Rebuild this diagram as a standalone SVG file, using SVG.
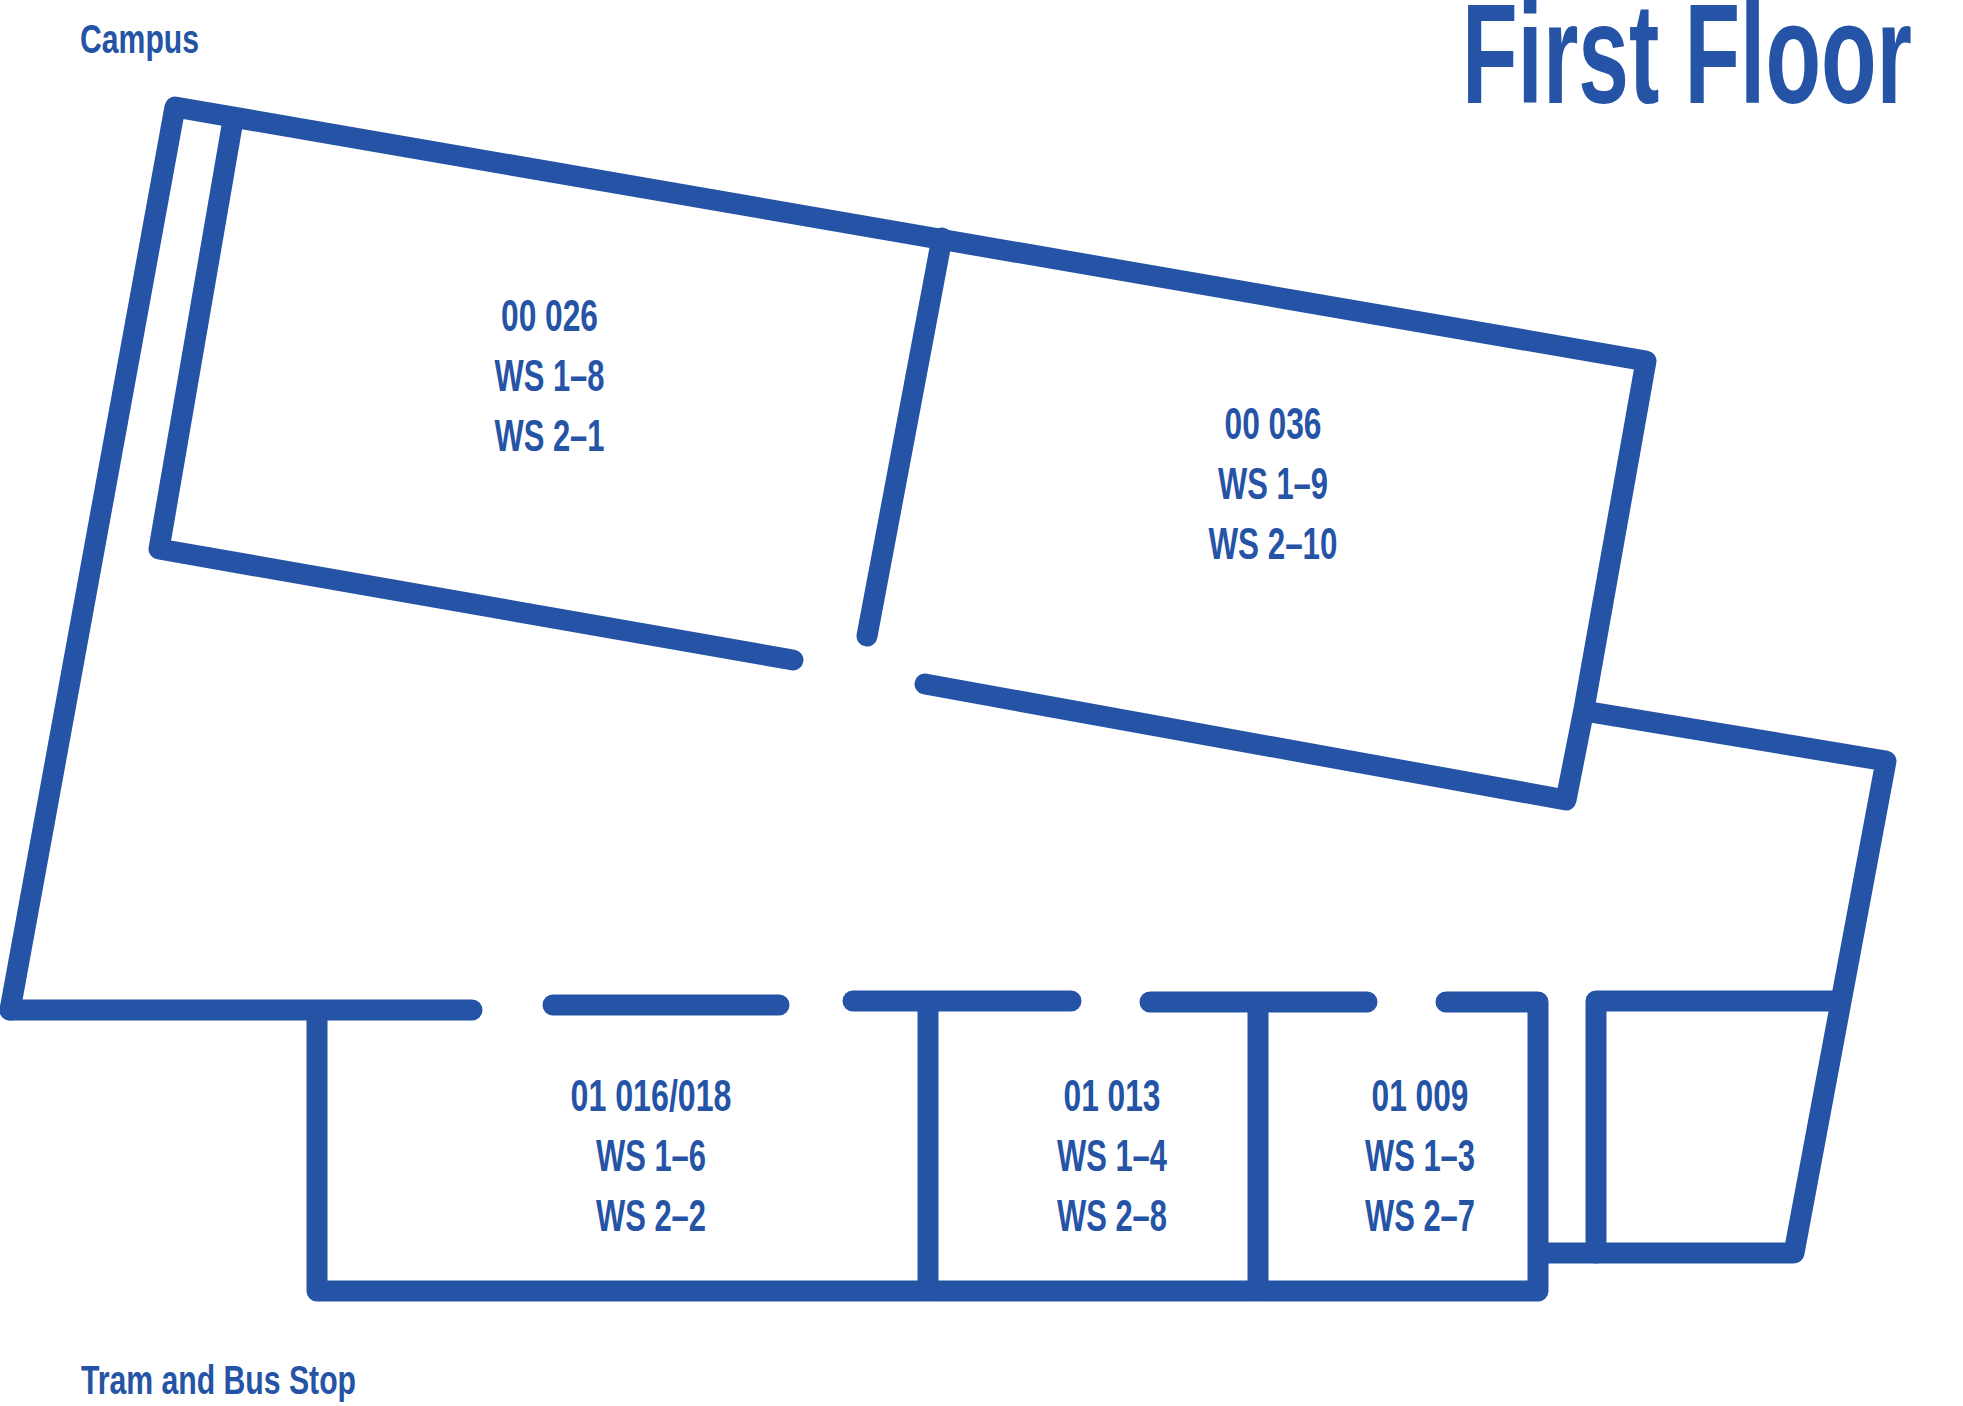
<svg xmlns="http://www.w3.org/2000/svg" width="1963" height="1406" viewBox="0 0 1963 1406">
<style>
.w{fill:none;stroke:#2553a5;stroke-width:21;stroke-linecap:round;stroke-linejoin:round}
text{font-family:"Liberation Sans Narrow","Liberation Sans",Arial,sans-serif;font-weight:700;fill:#2553a5;text-anchor:middle;font-size:44px}
.s{text-anchor:start}
</style>
<rect width="1963" height="1406" fill="#fff"/>
<g id="walls">
<path class="w" d="M10,1010 L175,107 L1646,361 L1584,709 L1566,800 L925,684"/>
<path class="w" d="M233,120 L159,549 L793,660"/>
<path class="w" d="M942,238 L867,636"/>
<path class="w" d="M1584,711 L1886,761 L1794,1253 L1542,1253"/>
<path class="w" d="M1596,1253 L1596,1001 L1838,1001"/>
<path class="w" d="M10,1010 L472,1010"/>
<path class="w" d="M553,1005 L779,1005"/>
<path class="w" d="M853,1001 L1071,1001"/>
<path class="w" d="M1150,1002 L1367,1002"/>
<path class="w" d="M1446,1002 L1538,1002 L1538,1291 L317,1291 L317,1012"/>
<path class="w" d="M928,1004 L928,1288"/>
<path class="w" d="M1258,1005 L1258,1288"/>
</g>
<g id="labels">
<text class="s" x="80" y="53" style="font-size:40px" textLength="119" lengthAdjust="spacingAndGlyphs">Campus</text>
<text class="s" x="81" y="1394" style="font-size:40px" textLength="275" lengthAdjust="spacingAndGlyphs">Tram and Bus Stop</text>
<text class="s" x="1462" y="103" style="font-size:143px" textLength="450" lengthAdjust="spacingAndGlyphs">First Floor</text>
</g>
<g id="room-00-026">
<text x="549.500" y="331" textLength="97" lengthAdjust="spacingAndGlyphs">00 026</text>
<text x="549.500" y="391" textLength="110" lengthAdjust="spacingAndGlyphs">WS 1–8</text>
<text x="549.500" y="451" textLength="110" lengthAdjust="spacingAndGlyphs">WS 2–1</text>
</g>
<g id="room-00-036">
<text x="1273" y="439" textLength="97" lengthAdjust="spacingAndGlyphs">00 036</text>
<text x="1273" y="499" textLength="110" lengthAdjust="spacingAndGlyphs">WS 1–9</text>
<text x="1273" y="559" textLength="129" lengthAdjust="spacingAndGlyphs">WS 2–10</text>
</g>
<g id="room-01-016-018">
<text x="651" y="1111" textLength="161" lengthAdjust="spacingAndGlyphs">01 016/018</text>
<text x="651" y="1171" textLength="110" lengthAdjust="spacingAndGlyphs">WS 1–6</text>
<text x="651" y="1231" textLength="110" lengthAdjust="spacingAndGlyphs">WS 2–2</text>
</g>
<g id="room-01-013">
<text x="1112" y="1111" textLength="97" lengthAdjust="spacingAndGlyphs">01 013</text>
<text x="1112" y="1171" textLength="110" lengthAdjust="spacingAndGlyphs">WS 1–4</text>
<text x="1112" y="1231" textLength="110" lengthAdjust="spacingAndGlyphs">WS 2–8</text>
</g>
<g id="room-01-009">
<text x="1420" y="1111" textLength="97" lengthAdjust="spacingAndGlyphs">01 009</text>
<text x="1420" y="1171" textLength="110" lengthAdjust="spacingAndGlyphs">WS 1–3</text>
<text x="1420" y="1231" textLength="110" lengthAdjust="spacingAndGlyphs">WS 2–7</text>
</g>
</svg>
